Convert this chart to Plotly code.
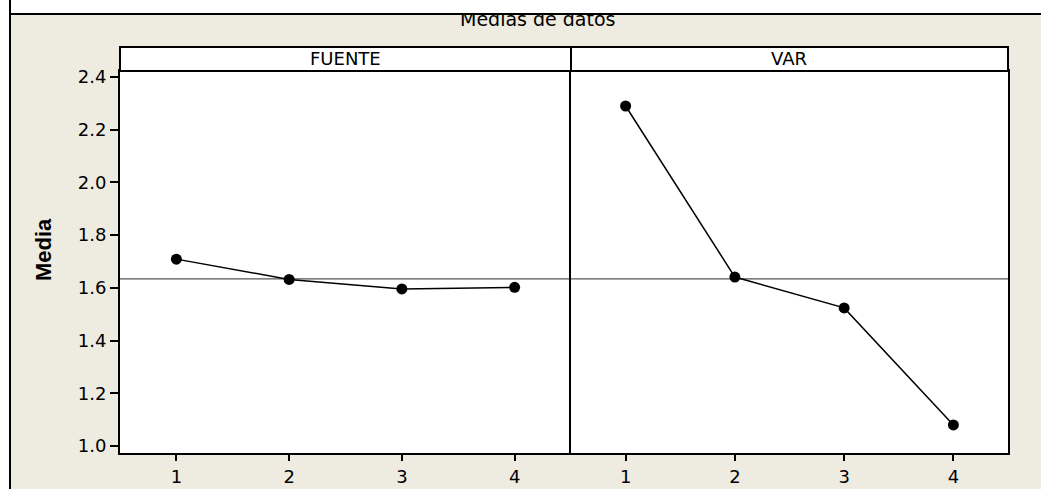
import plotly.graph_objects as go

# ---- data ----
levels = [1, 2, 3, 4]
fuente_means = [1.709, 1.632, 1.596, 1.602]
var_means = [2.290, 1.641, 1.524, 1.080]
panel_titles = ["FUENTE", "VAR"]
y_ticks = [1.0, 1.2, 1.4, 1.6, 1.8, 2.0, 2.2, 2.4]
title_text = "Medias de datos"
y_title = "Media"

grand_mean = (sum(fuente_means) + sum(var_means)) / (len(fuente_means) + len(var_means))

W, H = 1041, 489
ML, MR, MT, MB = 120, 33, 47, 36
PW = W - ML - MR
PH = H - MT - MB
STRIP_BOTTOM = 71
ydom_top = (H - MB - STRIP_BOTTOM) / PH
split = (571 - ML) / PW

def px_x(p):
    return (p - ML) / PW

def px_y(p):
    return (H - MB - p) / PH

BEIGE = "#EEEBE1"
FONT = "DejaVu Sans"

fig = go.Figure()

for i, (vals, xa, ya) in enumerate([(fuente_means, "x", "y"), (var_means, "x2", "y2")]):
    fig.add_trace(go.Scatter(
        x=[0.5, 4.5], y=[grand_mean, grand_mean], mode="lines",
        line=dict(color="#555555", width=1.2), xaxis=xa, yaxis=ya,
        showlegend=False, hoverinfo="skip"))
    fig.add_trace(go.Scatter(
        x=levels, y=vals, mode="lines+markers",
        line=dict(color="black", width=1.5),
        marker=dict(color="black", size=11),
        xaxis=xa, yaxis=ya, showlegend=False))

yrange = [0.9734, 2.4228]
axis_common = dict(showline=True, linecolor="black", linewidth=2,
                   showgrid=False, zeroline=False, automargin=False)

fig.update_layout(
    width=W, height=H,
    margin=dict(l=ML, r=MR, t=MT, b=MB, autoexpand=False),
    paper_bgcolor=BEIGE, plot_bgcolor="white",
    font=dict(family=FONT, size=18, color="black"),
    xaxis=dict(domain=[0, split], range=[0.5, 4.5], tickvals=levels,
               ticks="outside", ticklen=6, tickwidth=1.5, tickcolor="black",
               anchor="y", mirror=True, **axis_common),
    xaxis2=dict(domain=[split, 1], range=[0.5, 4.5], tickvals=levels,
                ticks="outside", ticklen=6, tickwidth=1.5, tickcolor="black",
                anchor="y2", mirror=True, **axis_common),
    yaxis=dict(domain=[0, ydom_top], range=yrange, tickvals=y_ticks,
               tickformat=".1f", ticks="outside", ticklen=8, tickwidth=1.5,
               tickcolor="black", anchor="x", mirror=False, **axis_common),
    yaxis2=dict(domain=[0, ydom_top], range=yrange, tickvals=y_ticks,
                showticklabels=False, ticks="", anchor="x2", mirror=True,
                **axis_common),
)

shapes = []
# left white margin with black border line
shapes.append(dict(type="rect", xref="paper", yref="paper",
                   x0=px_x(-30), x1=px_x(10), y0=px_y(520), y1=px_y(-30),
                   fillcolor="white", line=dict(color="black", width=2), layer="above"))
# strips
for x0, x1 in [(0, split), (split, 1)]:
    shapes.append(dict(type="rect", xref="paper", yref="paper",
                       x0=x0, x1=x1, y0=ydom_top, y1=1,
                       fillcolor="white", line=dict(color="black", width=2), layer="above"))
fig.update_layout(shapes=shapes)

annotations = []
for (x0, x1), t in zip([(0, split), (split, 1)], panel_titles):
    annotations.append(dict(text=t, xref="paper", yref="paper",
                            x=(x0 + x1) / 2, y=(1 + ydom_top) / 2,
                            xanchor="center", yanchor="middle", showarrow=False,
                            font=dict(family=FONT, size=18, color="black")))
annotations.append(dict(text="<b>" + y_title + "</b>", xref="paper", yref="paper",
                        x=px_x(43), y=px_y(250), textangle=-90,
                        xanchor="center", yanchor="middle", showarrow=False,
                        font=dict(family="Liberation Sans Narrow, Liberation Sans", size=22,
                                  color="black")))
# title (top clipped by the frame, as in the original)
annotations.append(dict(text=title_text, xref="paper", yref="paper",
                        x=px_x(537), y=px_y(19), xanchor="center", yanchor="middle",
                        showarrow=False, font=dict(family=FONT, size=19, color="black")))
# white cover above the top frame line
annotations.append(dict(text=" ", xref="paper", yref="paper",
                        x=px_x(9), y=px_y(15), xanchor="left", yanchor="bottom",
                        width=1100, height=40, bgcolor="white", bordercolor="black",
                        borderwidth=2, borderpad=0, showarrow=False))
fig.update_layout(annotations=annotations)

fig.write_html("out.html", config={"displayModeBar": False},
               post_script="document.body.style.margin='0px';document.body.style.overflow='hidden';")
